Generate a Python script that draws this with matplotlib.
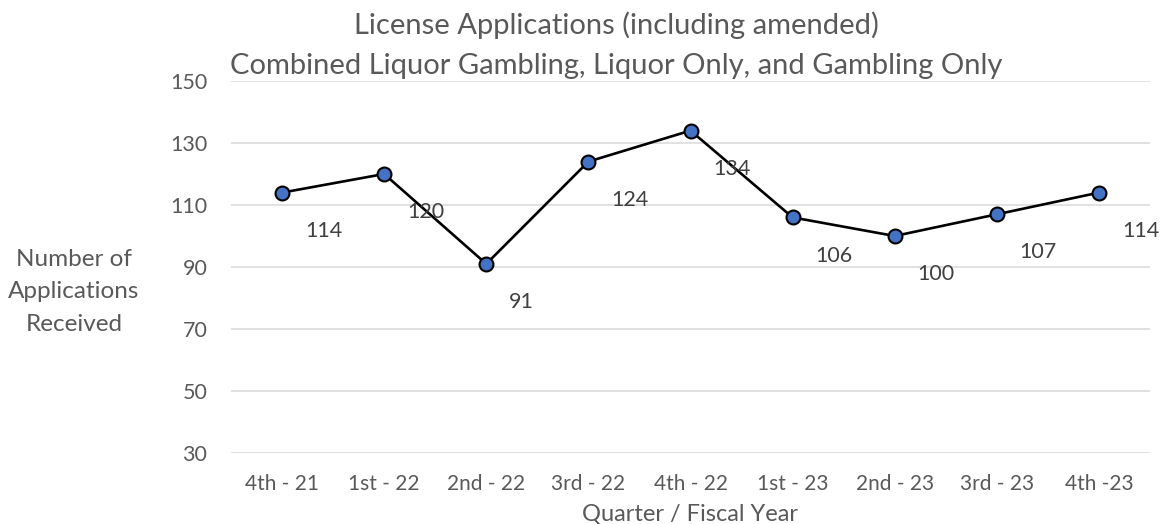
import matplotlib
matplotlib.use('Agg')
import matplotlib.pyplot as plt

# dados do grafico
trimestres = ['4th - 21', '1st - 22', '2nd - 22', '3rd - 22', '4th - 22',
              '1st - 23', '2nd - 23', '3rd - 23', '4th -23']
aplicacoes = [114, 120, 91, 124, 134, 106, 100, 107, 114]
marcas_y = [30, 50, 70, 90, 110, 130, 150]

plt.rcParams['font.family'] = ['Lato', 'DejaVu Sans']

cinza = '#595959'
fig = plt.figure(figsize=(11.6, 5.24), dpi=100)
ax = fig.add_axes([231/1160, 1 - 453/524, 919/1160, 372/524])

x = list(range(len(trimestres)))
ax.plot(x, aplicacoes, color='black', linewidth=1.9, marker='o',
        markersize=10, markerfacecolor='#4472C4', markeredgecolor='black',
        markeredgewidth=1.5, zorder=3)

# rotulos dos pontos (deslocados para a direita e para baixo)
for i, v in enumerate(aplicacoes):
    ax.annotate(str(v), (i, v), xytext=(16.5, -27.5), textcoords='offset points',
                ha='left', va='center', fontsize=15.5, color='#404040')

ax.set_xlim(-0.5, len(trimestres) - 0.5)
ax.set_ylim(30, 150)
ax.set_yticks(marcas_y)
ax.set_xticks(x)
ax.set_xticklabels(trimestres)
ax.yaxis.grid(True, color='#D9D9D9', linewidth=1.1)
ax.set_axisbelow(True)
for s in ax.spines.values():
    s.set_visible(False)
ax.tick_params(axis='both', length=0, labelsize=15.5, labelcolor=cinza)
ax.tick_params(axis='x', labelsize=15)
ax.tick_params(axis='y', pad=17)
ax.tick_params(axis='x', pad=15)

ax.set_xlabel('Quarter / Fiscal Year', fontsize=17, color=cinza, labelpad=7)

fig.text(74/1160, 1 - 292/524, 'Number of\nApplications\nReceived', ha='center',
         va='center', fontsize=17.5, color=cinza, linespacing=1.7)

# titulo em duas linhas
fig.text(616/1160, 1 - 34/524, 'License Applications (including amended)',
         ha='center', va='baseline', fontsize=21, color=cinza)
fig.text(616/1160, 1 - 74/524, 'Combined Liquor Gambling, Liquor Only, and Gambling Only',
         ha='center', va='baseline', fontsize=21, color=cinza)

fig.savefig('out.png', dpi=100)
